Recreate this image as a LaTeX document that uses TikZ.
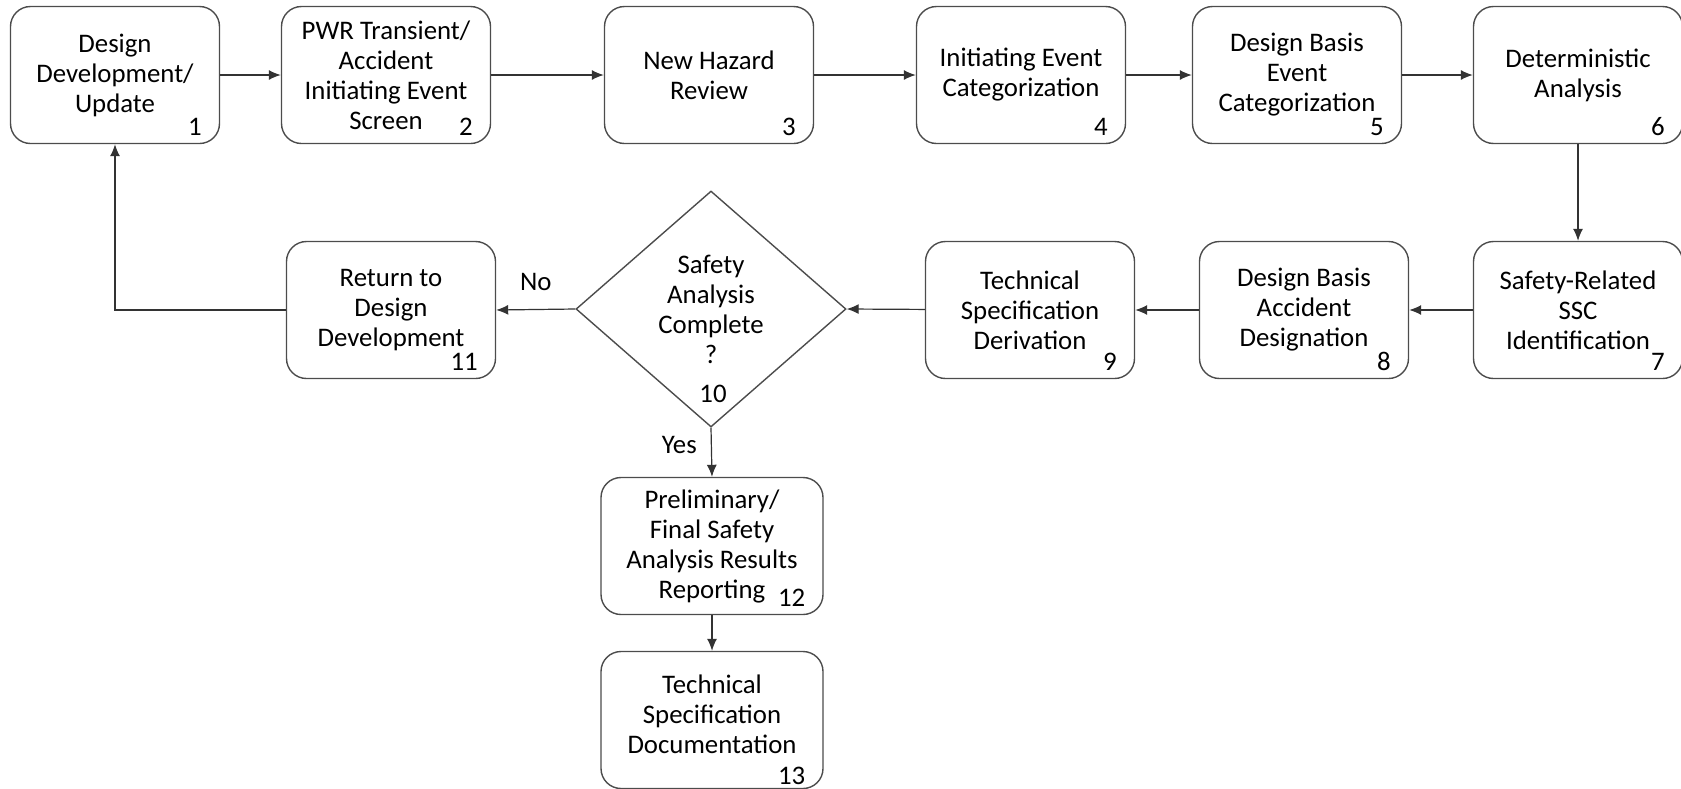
\documentclass[tikz,border=0pt]{standalone}
\usepackage{fontspec}
\setmainfont{Carlito}
\usetikzlibrary{arrows.meta,shapes.geometric}

\tikzset{
    box/.style={draw=black!70, line width=0.7pt, rounded corners=10pt, minimum width=104.5pt, minimum height=68.5pt, align=center, inner sep=2pt, font=\fontsize{13.4}{15}\selectfont},
    bigbox/.style={box, minimum width=111pt, minimum height=68.5pt},
    num/.style={anchor=south east, inner sep=0pt, font=\fontsize{13.4}{15}\selectfont},
    lbl/.style={inner sep=0pt, font=\fontsize{13.4}{15}\selectfont},
    link/.style={draw=black!80, line width=0.6pt, ->},
}

\begin{document}
\begin{tikzpicture}[>={Latex[length=6pt,width=5pt]}, x=0.5pt, y=-0.5pt]
        \useasboundingbox (0,0) rectangle (1681,788);
        % top row
        \node[box] (b1) at (115,75) {Design\\Development/\\Update};
        \node[box] (b2) at (386,75) {PWR Transient/\\Accident\\Initiating Event\\Screen};
        \node[box] (b3) at (709,75) {New Hazard\\Review};
        \node[box] (b4) at (1021,75) {Initiating Event\\Categorization};
        \node[box] (b5) at (1297,75) {Design Basis\\Event\\Categorization};
        \node[box] (b6) at (1578,75) {Deterministic\\Analysis};
        % second row
        \node[box] (b7) at (1578,310) {Safety-Related\\SSC\\Identification};
        \node[box] (b8) at (1304,310) {Design Basis\\Accident\\Designation};
        \node[box] (b9) at (1030,310) {Technical\\Specification\\Derivation};
        \node[diamond, draw=black!70, line width=0.7pt, minimum width=135pt, minimum height=118pt, inner sep=0pt] (d10) at (711,309) {};
        \node[lbl, align=center] (q10) at (d10.center) {Safety\\Analysis\\Complete\\?};
        \node[lbl] (n10) at (713,394) {10};
        \node[box] (b11) at (391,310) {Return to\\Design\\Development};
        % bottom column
        \node[bigbox] (b12) at (712,546) {Preliminary/\\Final Safety\\Analysis Results\\Reporting};
        \node[bigbox] (b13) at (712,720) {};
        \node[lbl, align=center] (t13) at ([yshift=3pt]b13.center) {Technical\\Specification\\Documentation};

        \foreach \b/\n in {b1/1,b2/2,b3/3,b4/4,b5/5,b6/6,b7/7,b8/8,b9/9,b11/11,b12/12}
            \node[num] (n\n) at ([shift={(-9pt,4pt)}]\b.south east) {\n};
        \node[num] (n13) at ([shift={(-9pt,2pt)}]b13.south east) {13};

        \draw[link] (b1) -- (b2);
        \draw[link] (b2) -- (b3);
        \draw[link] (b3) -- (b4);
        \draw[link] (b4) -- (b5);
        \draw[link] (b5) -- (b6);
        \draw[link] (b6) -- (b7);
        \draw[link] (b7) -- (b8);
        \draw[link] (b8) -- (b9);
        \draw[link] (b9) -- (d10.east);
        \draw[link] (d10.west) -- node[lbl, above=9pt] (no) {No} (b11.east);
        \draw[link] (b11.west) -| (b1.south);
        \draw[link] (d10.south) -- node[lbl, pos=0.35, left=7pt] (yes) {Yes} (b12.north);
        \draw[link] (b12) -- (b13);
    \end{tikzpicture}
\end{document}
